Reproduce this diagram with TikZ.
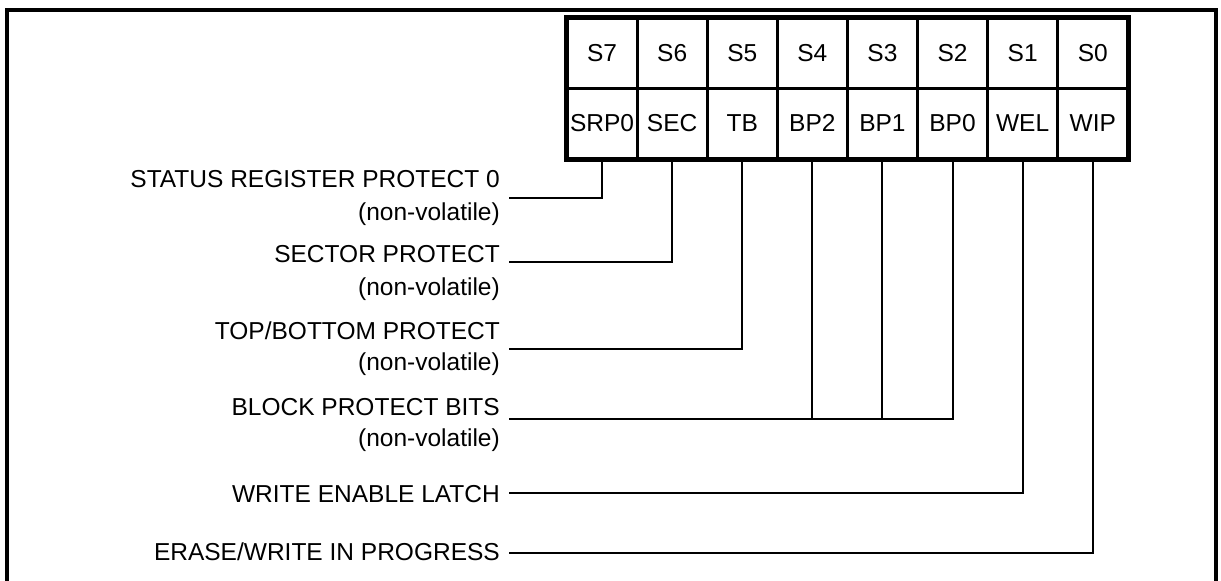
\documentclass[tikz,border=0pt]{standalone}
\usepackage{fontspec}
\setmainfont{Liberation Sans}
\begin{document}
\begin{tikzpicture}[x=1pt,y=-1pt,
  cell/.style={draw,line width=3pt,minimum width=70.1pt,minimum height=70pt,inner sep=0pt,font=\fontsize{24.5}{28}\selectfont},
  lbl/.style={anchor=base east,inner sep=0pt,font=\fontsize{24.5}{28}\selectfont},
  conn/.style={line width=2pt},
  frame/.style={line width=3.3pt}]
\useasboundingbox (0,0) rectangle (1221,581);
\fill[white] (0,0) rectangle (1221,581);
\draw[frame] (7,581) -- (7,10) -- (1216,10) -- (1216,581);
% register cells
\foreach \i/\top/\bot in {7/S7/SRP0,6/S6/SEC,5/S5/TB,4/S4/BP2,3/S3/BP1,2/S2/BP0,1/S1/WEL,0/S0/WIP}{
  \node[cell] (t\i) at ({567+70.1*(7-\i)+35.05},53) {\top};
  \node[cell] (b\i) at ({567+70.1*(7-\i)+35.05},123) {\bot};
}
\draw[line width=4pt] (t7.north west) rectangle (b0.south east);
% labels
\node[lbl] (srp) at (500,187) {STATUS REGISTER PROTECT 0};
\node[lbl] (srpn) at (500,220) {(non-volatile)};
\node[lbl] (sec) at (500,262) {SECTOR PROTECT};
\node[lbl] (secn) at (500,295) {(non-volatile)};
\node[lbl] (tb) at (500,339) {TOP/BOTTOM PROTECT};
\node[lbl] (tbn) at (500,370) {(non-volatile)};
\node[lbl] (bp) at (500,415) {BLOCK PROTECT BITS};
\node[lbl] (bpn) at (500,446) {(non-volatile)};
\node[lbl] (wel) at (500,502) {WRITE ENABLE LATCH};
\node[lbl] (wip) at (500,560) {ERASE/WRITE IN PROGRESS};
% line starts
\coordinate (csrp) at (509,198);
\coordinate (csec) at (509,262);
\coordinate (ctb) at (509,349);
\coordinate (cbp) at (509,419);
\coordinate (cwel) at (509,493);
\coordinate (cwip) at (509,553);
% connectors
\draw[conn] (csrp) -| (b7.south);
\draw[conn] (csec) -| (b6.south);
\draw[conn] (ctb) -| (b5.south);
\draw[conn] (cbp) -| (b2.south);
\draw[line width=2.6pt] (cbp) -- (cbp -| b4.south);
\draw[conn] (b4.south) -- (b4.south |- cbp);
\draw[conn] (b3.south) -- (b3.south |- cbp);
\draw[conn] (cwel) -| (b1.south);
\draw[conn] (cwip) -| (b0.south);
\end{tikzpicture}
\end{document}
